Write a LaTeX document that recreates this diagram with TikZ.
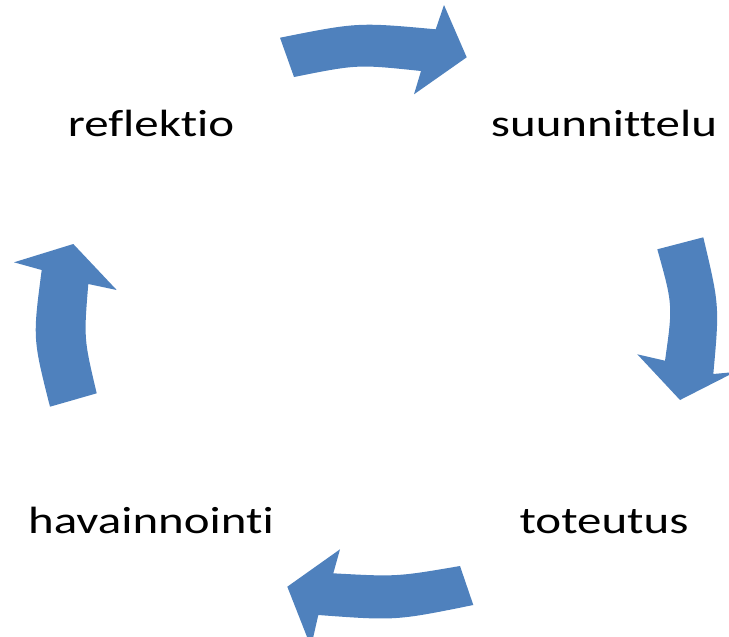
\documentclass[tikz,border=0pt]{standalone}
\usepackage{fontspec}
\setmainfont{Carlito}[FakeStretch=1.29, Ligatures=NoCommon]
\definecolor{flowblue}{RGB}{79,129,189}

\begin{document}
\begin{tikzpicture}[x=0.02cm, y=-0.02cm,
  stage/.style={anchor=base, inner sep=0pt, font=\fontsize{21.6}{26}\selectfont},
  flow/.style={fill=flowblue}]
  \useasboundingbox (0,0) rectangle (729,636);
  \node[stage] (a) at (151, 136) {reflektio};
  \node[stage] (b) at (604, 136) {suunnittelu};
  \node[stage] (c) at (604, 533) {toteutus};
  \node[stage] (d) at (151, 533) {havainnointi};
  \fill[flow] (280,37.7) .. controls (357.9,22.2) .. (435.7,29.3) -- (444,5) -- (466.7,57.3)
    -- (414,94.3) -- (421,71) .. controls (357.5,64.3) .. (294,77) -- cycle;
  \fill[flow] (657.3,249.3) -- (703.3,237.3) .. controls (719.5,305.7) .. (713.3,374) -- (735,372)
    -- (680,400) -- (637.3,354.3) -- (665,360.7) .. controls (672.9,305) .. (657.3,249.3) -- cycle;
  \fill[flow] (473.3,605) .. controls (395.8,620.7) .. (318.3,615) -- (311,647) -- (287.3,586.7)
    -- (340,549.3) -- (333.3,573.3) .. controls (396.7,576.8) .. (460,566) -- cycle;
  \fill[flow] (50,406.7) -- (96.7,393.3) .. controls (83.8,338.7) .. (88.3,284) -- (116.7,290)
    -- (73.3,244) -- (14,262.3) -- (41.7,270) .. controls (32.7,338.4) .. (50,406.7) -- cycle;
\end{tikzpicture}
\end{document}
